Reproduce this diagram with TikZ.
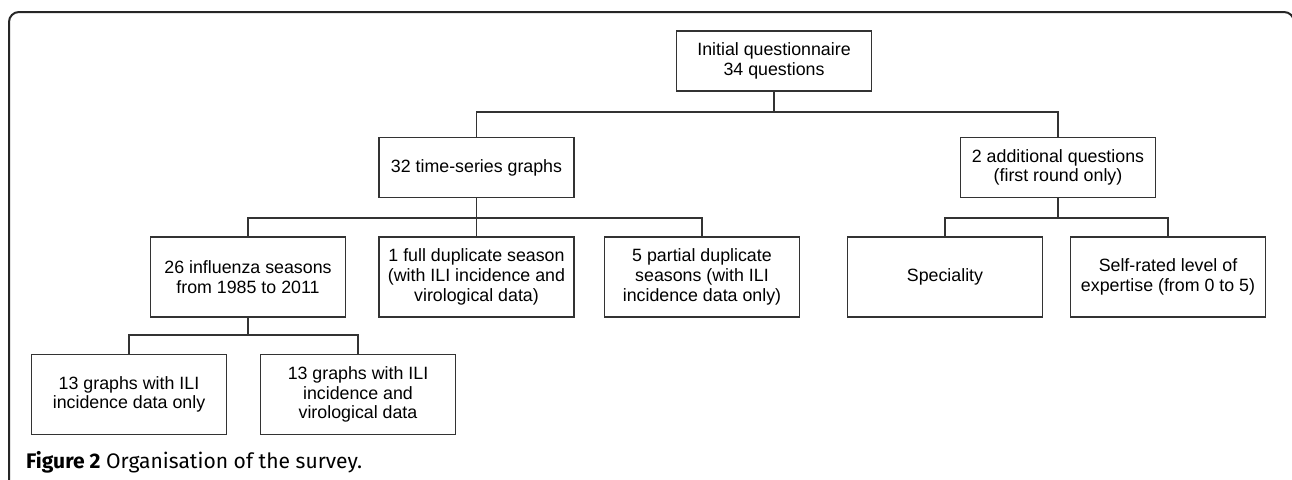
\documentclass[tikz,border=0pt]{standalone}
\usepackage{fontspec}
\usepackage{graphicx}
\setmainfont{Liberation Sans}
\newfontfamily\capfont{Fira Sans}
\begin{document}
\begin{tikzpicture}[x=1pt,y=-1pt,
  box/.style={draw=black!80,line width=1.4pt,minimum width=195pt,align=center,inner sep=0pt,
    font=\fontsize{17.8}{19.7}\selectfont},
  small/.style={box,minimum height=60pt},
  tall/.style={box,minimum height=80pt},
  link/.style={draw=black!80,line width=1.3pt}]
\clip (0,0) rectangle (1292,479);
\fill[white] (0,0) rectangle (1292,479);
\draw[black!85,line width=2pt,rounded corners=10pt] (9,490) -- (9,12) -- (1294,12) -- (1294,490);
\node[small] (root) at (774,61) {Initial questionnaire\\34 questions};
\node[small] (ts) at (476.5,167.5) {32 time-series graphs};
\node[small] (add) at (1058,167.5) {2 additional questions\\(first round only)};
\node[tall] (inf) at (248,277) {26 influenza seasons\\from 1985 to 2011};
\node[tall] (full) at (476.5,277) {1 full duplicate season\\(with ILI incidence and\\virological data)};
\node[tall] (part) at (702,277) {5 partial duplicate\\seasons (with ILI\\incidence data only)};
\node[tall] (spec) at (945,277) {Speciality};
\node[tall] (self) at (1168,277) {Self-rated level of\\expertise (from 0 to 5)};
\node[tall] (g1) at (129,394.5) {13 graphs with ILI\\incidence data only};
\node[tall] (g2) at (358,394.5) {13 graphs with ILI\\incidence and\\virological data};
\coordinate (j1) at (774,112);
\coordinate (j2) at (476.5,218);
\coordinate (j3) at (1058,218);
\coordinate (j4) at (248,335);
\draw[link] (root.south) -- (j1);
\draw[link] (ts.north) |- (j1) -| (add.north);
\draw[link] (ts.south) -- (j2);
\draw[link] (inf.north) |- (j2) -| (part.north);
\draw[link] (j2) -- (full.north);
\draw[link] (add.south) -- (j3);
\draw[link] (spec.north) |- (j3) -| (self.north);
\draw[link] (inf.south) -- (j4);
\draw[link] (g1.north) |- (j4) -| (g2.north);
\node[anchor=base west,inner sep=0pt,font=\capfont\fontsize{20}{22}\selectfont] (cap) at (26,468) {\resizebox{336pt}{!}{\textbf{Figure 2} Organisation of the survey.}};
\end{tikzpicture}
\end{document}
